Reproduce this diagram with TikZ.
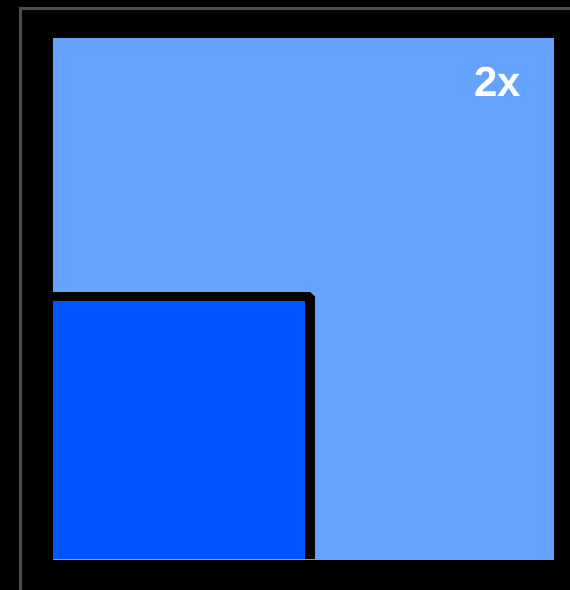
\documentclass[tikz,border=0pt]{standalone}
\usepackage{fontspec}
\setmainfont{Liberation Sans}
\definecolor{paleblue}{HTML}{66A3FF}
\definecolor{deepblue}{HTML}{0055FF}
\definecolor{frame}{HTML}{4D4D4D}

\begin{document}
\begin{tikzpicture}[x=1pt, y=-1pt,
    panel/.style={rectangle, draw=none, inner sep=0pt, anchor=north west},
    rim/.style={line width=9.5pt, line join=bevel}
]
\useasboundingbox[fill=black] (0,0) rectangle (570,590);
\draw[frame, line width=3pt] (20.5,600) -- (20.5,8.5) -- (580,8.5);
\node[panel, fill=paleblue, minimum width=501pt, minimum height=522pt] (big) at (53,38) {};
\node[panel, fill=deepblue, minimum width=252pt, minimum height=258pt] (small) at (53,301) {};
\draw[rim] ([yshift=4.75pt]small.north west) -- ([xshift=4.75pt, yshift=4.75pt]small.north east)
    -- ([xshift=4.75pt]small.south east);
\node[text=white, font=\bfseries\fontsize{42}{42}\selectfont] (factor) at (498,82) {2x};
\end{tikzpicture}
\end{document}
